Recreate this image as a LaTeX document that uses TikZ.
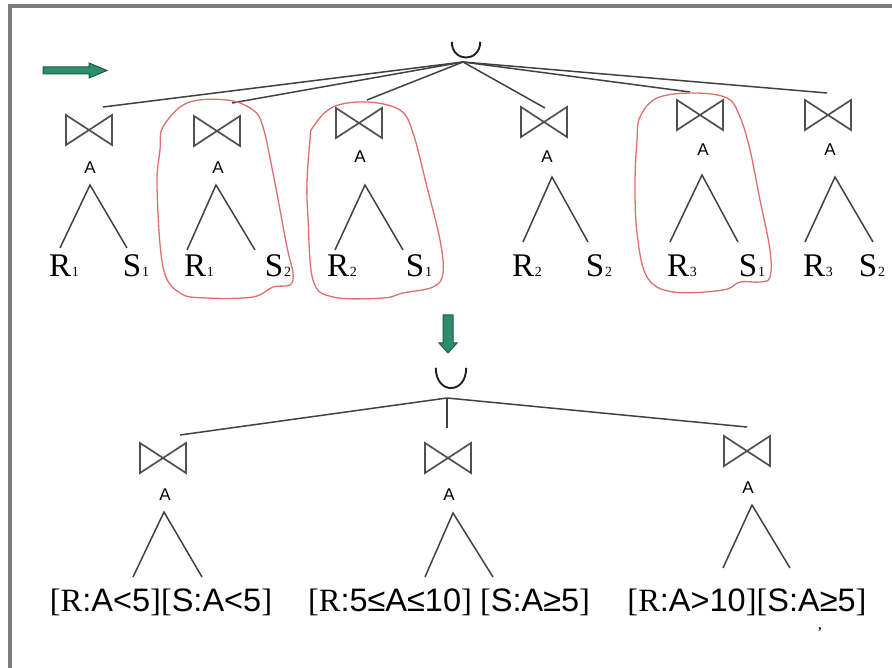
\documentclass[tikz,border=0pt]{standalone}
\usepackage{fontspec}
\setmainfont{Liberation Serif}
\newfontfamily\sansf{Liberation Sans}
\usetikzlibrary{calc}
\definecolor{edgegray}{RGB}{65,65,65}
\definecolor{bowgray}{RGB}{80,80,80}
\definecolor{loopred}{RGB}{222,110,110}
\definecolor{tealfill}{RGB}{45,140,110}
\definecolor{tealdark}{RGB}{28,88,70}
\definecolor{framegray}{RGB}{125,125,125}
\definecolor{unionink}{RGB}{30,30,45}
\newcommand\leaflab[2]{{\fontsize{33}{33}\selectfont #1\hspace{0.8pt}{\fontsize{14}{14}\selectfont #2}}}
\newcommand\sn[1]{{\sansf #1}}
\newcommand\drawjoin[1]{\draw[bowline] (#1.north west) -- (#1.south west) -- (#1.north east) -- (#1.south east) -- cycle;}
\newcommand\drawunion[2]{\draw[uline] (#1.north west) .. controls ($(#1.north west)+(0,#2)$) and ($(#1.north east)+(0,#2)$) .. (#1.north east);}
\tikzset{
  edge/.style={draw=edgegray, line width=1.5pt},
  bowline/.style={draw=bowgray, line width=1.7pt, line join=miter},
  uline/.style={draw=unionink, line width=1.9pt},
  joinnode/.style={minimum width=46pt, minimum height=30pt, inner sep=0pt, outer sep=0pt},
  alab/.style={font=\sansf\fontsize{17}{17}\selectfont, inner sep=0pt},
  leaf/.style={inner sep=0pt, anchor=base},
  botlab/.style={font=\fontsize{32.5}{32.5}\selectfont, inner sep=0pt, anchor=base},
  loop/.style={draw=loopred, line width=1.3pt},
  arrowfill/.style={fill=tealfill, draw=tealdark, line width=1pt, line join=miter}
}
\begin{document}
\begin{tikzpicture}[x=1pt,y=-1pt]
\useasboundingbox (0,0) rectangle (892,668);
% frame
\draw[framegray, line width=4pt] (8,6) -- (892,6);
\draw[framegray, line width=4pt] (10,4) -- (10,668);

% arrows
\filldraw[arrowfill] (43,67) -- (89,67) -- (89,63) -- (107,70.5) -- (89,78) -- (89,74) -- (43,74) -- cycle;
\filldraw[arrowfill] (443,315) -- (453,315) -- (453,343) -- (457,343) -- (448,353) -- (439,343) -- (443,343) -- cycle;

% ===== top tree =====
\node[minimum width=28pt, minimum height=16pt, inner sep=0pt] (u1) at (466,50) {};
\drawunion{u1}{21}
\coordinate (c1) at (463,62);

\node[joinnode] (j1) at (89,130) {};
\node[joinnode] (j2) at (217,131) {};
\node[joinnode] (j3) at (359,123) {};
\node[joinnode] (j4) at (544,122) {};
\node[joinnode] (j5) at (700,115) {};
\node[joinnode] (j6) at (828,115) {};
\foreach \j in {j1,j2,j3,j4,j5,j6}{\drawjoin{\j}}

\coordinate (t1) at (103,107);
\coordinate (t2) at (232,103);
\coordinate (t3) at (367,100);
\coordinate (t4) at (545,108);
\coordinate (t5) at (690,92);
\coordinate (t6) at (827,93);
\foreach \t in {t1,t2,t3,t4,t5,t6}{\draw[edge] (c1) -- (\t);}

\node[alab] (a1) at (90,168) {A};
\node[alab] (a2) at (218,168) {A};
\node[alab] (a3) at (360,157) {A};
\node[alab] (a4) at (547,157) {A};
\node[alab] (a5) at (703,150) {A};
\node[alab] (a6) at (830,150) {A};

\coordinate (p1) at (90,185);  \coordinate (l1) at (60,248);  \coordinate (r1) at (127,248);
\coordinate (p2) at (216,185); \coordinate (l2) at (187,250); \coordinate (r2) at (255,250);
\coordinate (p3) at (365,185); \coordinate (l3) at (335,250); \coordinate (r3) at (403,250);
\coordinate (p4) at (552,177); \coordinate (l4) at (523,242); \coordinate (r4) at (588,242);
\coordinate (p5) at (702,175); \coordinate (l5) at (670,242); \coordinate (r5) at (738,242);
\coordinate (p6) at (835,177); \coordinate (l6) at (805,242); \coordinate (r6) at (873,242);
\foreach \i in {1,...,6}{\draw[edge] (l\i) -- (p\i) -- (r\i);}

\node[leaf] (x1) at (64,277) {\leaflab{R}{1}};
\node[leaf] (y1) at (136,277) {\leaflab{S}{1}};
\node[leaf] (x2) at (199,277) {\leaflab{R}{1}};
\node[leaf] (y2) at (278,277) {\leaflab{S}{2}};
\node[leaf] (x3) at (342,277) {\leaflab{R}{2}};
\node[leaf] (y3) at (419,277) {\leaflab{S}{1}};
\node[leaf] (x4) at (527,277) {\leaflab{R}{2}};
\node[leaf] (y4) at (599,277) {\leaflab{S}{2}};
\node[leaf] (x5) at (682,277) {\leaflab{R}{3}};
\node[leaf] (y5) at (752,277) {\leaflab{S}{1}};
\node[leaf] (x6) at (818,277) {\leaflab{R}{3}};
\node[leaf] (y6) at (872,277) {\leaflab{S}{2}};

% red loops
\draw[loop] plot[smooth cycle, tension=0.6] coordinates {
 (163,127) (187,103) (227,100) (253,110) (263,127) (273,173) (287,247) (293,273)
 (290,285) (273,287) (253,297) (207,298) (180,293) (163,267) (157,187) (160,150)};
\draw[loop] plot[smooth cycle, tension=0.6] coordinates {
 (313,127) (333,107) (367,102) (400,110) (413,133) (427,187) (440,240) (443,273)
 (433,287) (403,293) (383,298) (333,297) (313,280) (308,217) (307,183) (310,140)};
\draw[loop] plot[smooth cycle, tension=0.6] coordinates {
 (640,117) (657,98) (693,93) (727,98) (740,117) (750,150) (760,200) (770,250)
 (770,277) (760,282) (740,282) (723,290) (673,292) (647,277) (637,233) (635,183) (637,140)};

% ===== bottom tree =====
\node[minimum width=30pt, minimum height=20pt, inner sep=0pt] (u2) at (451,378) {};
\drawunion{u2}{27}
\coordinate (c2) at (447,398);

\node[joinnode] (k1) at (163,458) {};
\node[joinnode] (k2) at (448,458) {};
\node[joinnode] (k3) at (747,451) {};
\foreach \k in {k1,k2,k3}{\drawjoin{\k}}

\coordinate (s1) at (180,435);
\coordinate (s2) at (447,428);
\coordinate (s3) at (747,427);
\foreach \s in {s1,s2,s3}{\draw[edge] (c2) -- (\s);}

\node[alab] (b1) at (165,495) {A};
\node[alab] (b2) at (449,495) {A};
\node[alab] (b3) at (748,488) {A};

\coordinate (q1) at (164,512); \coordinate (m1) at (133,577); \coordinate (n1) at (202,577);
\coordinate (q2) at (453,513); \coordinate (m2) at (425,577); \coordinate (n2) at (493,577);
\coordinate (q3) at (752,505); \coordinate (m3) at (723,568); \coordinate (n3) at (790,568);
\foreach \i in {1,2,3}{\draw[edge] (m\i) -- (q\i) -- (n\i);}

\node[botlab] (f1) at (161,611) {[R\sn{:A<5}][\sn{S:A<5}]};
\node[botlab] (f2) at (449,611) {[R\sn{:5≤A≤10}] [\sn{S:A≥5}]};
\node[botlab] (f3) at (747,611) {[R\sn{:A>10}][\sn{S:A≥5}]};
\node[inner sep=0pt, font=\bfseries\fontsize{13}{13}\selectfont] (dot) at (820,630) {,};
\end{tikzpicture}
\end{document}
